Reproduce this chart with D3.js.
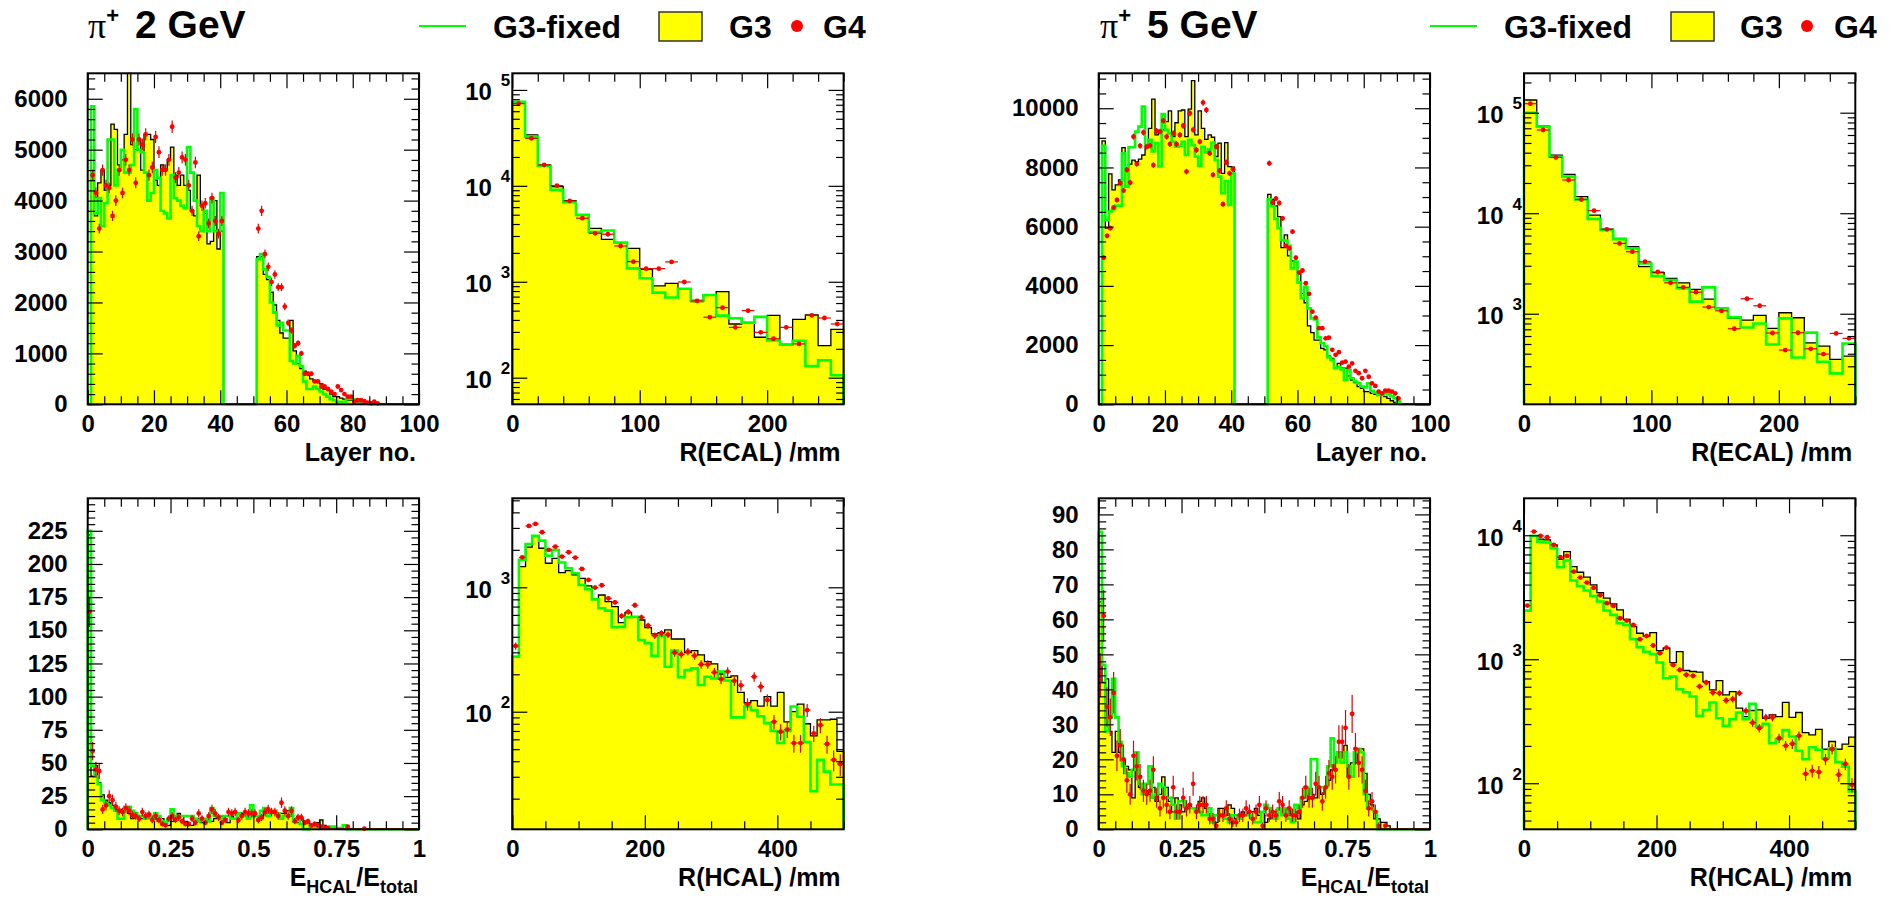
<!DOCTYPE html>
<html><head><meta charset="utf-8">
<script src="https://cdn.jsdelivr.net/npm/d3@7"></script>
<style>
body{margin:0;background:#fff;}
svg text{font-family:"Liberation Sans",Arial,Helvetica,sans-serif;font-weight:bold;fill:#000;}
</style>
</head><body><script>
// ---------------- DATA ----------------
// Panel: pi+ 2 GeV, energy per layer (bins of 1 layer, 0..100)
const layer2_G3 = [0,4400,3700,4350,4600,4200,4300,5500,5400,4700,
4800,5300,6700,5100,5000,5200,4600,5300,5300,5200,
4400,4300,4700,4600,4800,5050,4500,4300,4500,4300,
4200,3800,3700,4500,3900,3750,3150,3200,4000,3050,
3400,0,0,0,0,0,0,0,0,0,
0,2900,2900,2550,2450,2200,1950,1650,1400,1300,
1300,1650,1050,800,700,650,600,500,450,450,
400,300,300,200,150,150,120,100,80,80,
60,60,40,30,20,10,10,5,5,0,
0,0,0,0,0,0,0,0,0,0];
const layer2_G3fixed = [0,5850,3750,4050,3500,3950,5200,5200,4300,4600,
5000,4550,4550,4700,5800,5000,4950,4550,4000,4150,
4600,4450,3800,3750,3650,4500,4050,4000,3900,3850,
5050,4550,4000,3500,3400,3800,3400,4050,3400,3400,
4150,0,0,0,0,0,0,0,0,0,
0,2850,2950,2650,2500,2000,1800,1550,1600,1450,
1450,850,800,950,750,450,300,300,350,300,
250,200,150,100,80,50,40,50,100,100,
100,50,20,10,10,5,0,0,0,0,
0,0,0,0,0,0,0,0,0,0];
const layer2_G4 = [0,4500,4150,3450,4600,4300,4250,3700,4000,4600,
4150,4800,4600,5200,4350,5200,5100,5300,4500,4650,
5250,4950,4600,4600,4800,5450,4450,4550,4850,4800,
4300,3800,4750,3300,3900,3950,3550,4050,3600,3350,
3600,0,0,0,0,0,0,0,0,0,
0,3450,3800,2950,2700,2400,2550,2300,2300,1920,
1600,1450,1150,1200,1000,600,600,600,450,450,
350,350,300,250,200,350,280,200,150,150,
50,80,80,60,30,20,50,20,0,0,
0,0,0,0,0,0,0,0,0,0];

// Panel: pi+ 2 GeV, R(ECAL) (bins of 10 mm, 0..260)
const recal2_G3 = [75500,34000,16500,9800,7000,4980,3610,2770,2560,2230,1350,904,964,840,621,728,789,363,375,264,447,223,406,451,216,319];
const recal2_G3fixed = [75000,32600,16200,9080,6740,4980,3300,3420,2560,1380,1090,771,685,847,636,728,444,417,375,431,244,221,242,132,152,106];
const recal2_G4 = [72000,31300,16500,10050,6970,4600,3200,3130,2360,1620,1370,1370,1610,995,631,427,537,335,500,297,255,335,225,447,419,363];

// Panel: pi+ 2 GeV, E_HCAL/E_total (bins of 0.01, 0..1)
const frac2_G3 = [222,40,48,35,26,22,20,18,15,13,
15,16,12,8,10,10,8,10,12,10,
8,6,8,3,3,6,10,12,10,6,
3,3,6,8,5,5,8,6,8,10,
10,8,5,10,8,12,12,10,10,12,
12,10,8,14,10,12,12,10,12,12,
14,10,8,5,8,6,5,3,3,5,
7,3,2,1,1,1,0.5,0.5,0.5,0.5,
0.3,0.3,0,0,0,0,0,0,0,0,
0,0,0,0,0,0,0,0,0,0];
const frac2_G3fixed = [225,48,40,34,22,20,18,16,14,8,
8,17,17,14,12,10,10,8,10,8,
12,10,6,5,8,15,10,10,10,10,
10,10,8,6,8,8,6,16,10,10,
8,10,10,8,8,12,10,10,8,18,
10,10,14,16,10,14,14,12,8,10,
10,16,6,8,4,0,0,3,2,2,
2,1,1,2,2,1,1,3,0,0,
0,0,0,0,0,0,0,0,0,0,
0,0,0,0,0,0,0,0,0,0];
const frac2_G4 = [164,59,45,44,15,18,25,22,17,14,
13,16,14,11,10,8,13,10,11,7,
10,7,4,3,8,10,7,9,6,4,
4,8,5,12,8,5,10,15,12,9,
5,7,13,12,13,7,10,13,12,12,
12,7,9,13,15,13,13,10,20,14,
10,14,6,9,9,5,6,3,4,3,
2,1,1,0,0,0,0,0,2,0,
0,0,0,0.5,0,0,0,0,0,0,
0,0,0,0,0,0,0,0,0,0];

// Panel: pi+ 2 GeV, R(HCAL) (bins of 10 mm, 0..500)
const rhcal2_G3 = [277,1467,2100,2590,2060,1560,1710,1312,1362,1256,1181,1025,800,867,767,700,520,626,581,546,474,422,432,454,384,384,298,310,286,253,242,201,189,194,143,118,123,111,132,111,143,83,100,115,80,64,86,86,87,48];
const rhcal2_G3fixed = [277,1660,2230,2590,2370,1790,1995,1580,1422,1296,1044,964,800,678,649,477,481,574,580,377,355,281,406,230,310,189,216,223,164,191,185,210,178,90,90,110,103,92,81,70,56,70,110,91,57,23,41,33,26,26];
const rhcal2_G4 = [338,1742,3110,3228,2768,1995,2122,1765,1913,1734,1404,1146,994,1038,816,757,588,634,717,574,492,409,427,416,298,289,304,282,240,240,207,183,210,177,163,115,191,159,124,83,69,72,56,56,103,67,78,55,41,38];

// Panel: pi+ 5 GeV, energy per layer
const layer5_G3 = [0,8900,5950,7780,7240,7410,7580,8670,7860,8110,
8250,8200,8280,8420,8670,9320,10310,9100,9210,9270,
9550,9910,9040,9510,9910,9940,9040,9970,10930,9100,
9910,9320,8950,9100,9020,8370,8820,7800,8840,8030,
8010,0,0,0,0,0,0,0,0,0,
0,7090,6920,6700,6340,5290,5720,5010,4840,4820,
4450,3750,3430,2650,2420,2170,2170,1890,1840,1630,
1550,1220,1380,1220,1220,960,820,730,600,540,
430,430,370,340,320,320,260,200,120,60,
0,0,0,0,0,0,0,0,0,0];
const layer5_G3fixed = [0,8730,6230,6510,6590,6710,6710,8480,7350,8680,
8680,9210,9380,10060,8700,8930,8540,8820,8030,9800,
9270,9150,8870,8700,8730,8870,8420,8930,8760,8370,
8050,8700,8510,8610,8840,8250,7690,7130,7540,6730,
7800,0,0,0,0,0,0,0,0,0,
0,6920,6700,6260,5950,5550,5530,5350,4590,4820,
4110,3580,3970,3240,2900,2870,2260,2060,1970,1590,
1500,1220,1270,1180,820,1160,880,770,710,600,
570,710,460,390,320,320,370,350,280,200,
90,0,0,0,0,0,0,0,0,0];
const layer5_G4 = [0,4950,5690,5950,6650,6900,7470,7220,7920,7490,
9040,8120,8730,9180,8700,8740,8080,9230,9210,9580,
9040,8790,9150,8790,9100,9410,7860,9830,9270,8590,
8870,10190,9940,8480,7750,8700,7890,6760,8170,7800,
7940,0,0,0,0,0,0,0,0,0,
0,8140,6820,6950,6800,6280,5350,5270,5830,4950,
4450,4520,4090,3730,3130,2930,2570,2570,2230,2250,
1840,1670,1760,1410,1440,1270,1380,1130,1050,880,
1130,930,710,620,430,370,460,460,430,370,
200,0,0,0,0,0,0,0,0,0];

// Panel: pi+ 5 GeV, R(ECAL)
const recal5_G3 = [133700,73600,37900,24300,14600,9590,6960,5620,4640,2940,2560,2250,2030,1750,1400,1130,899,865,962,714,1023,912,514,476,351,379];
const recal5_G3fixed = [100000,72600,36500,23100,13700,8760,6810,5500,4470,3160,2370,2160,1790,1320,1830,1130,920,730,800,494,899,367,648,333,255,505];
const recal5_G4 = [122900,67300,35900,21400,13700,10600,6910,5010,4140,3290,2600,2030,1830,1640,1165,1070,709,1410,1200,643,435,647,448,397,637,569];

// Panel: pi+ 5 GeV, E_HCAL/E_total
const frac5_G3 = [65,42,43,28,22,28,22,20,18,17,
9,17,12,10,11,10,12,8,10,15,
12,8,5,9,7,5,6,7,6,5,
8,9,6,4,3,2,6,6,4,7,
6,3,3,5,4,5,5,6,4,5,
2,3,5,5,6,4,4,6,4,5,
3,7,8,10,10,9,12,10,12,14,
17,20,22,22,24,15,19,19,23,23,
16,10,7,3,3,2,2,1,0,0,
0,0,0,0,0,0,0,0,0,0];
const frac5_G3fixed = [85,47,28,32,43,32,25,18,16,15,
17,22,13,10,13,18,9,10,13,12,
9,9,7,3,8,8,6,6,6,5,
5,4,4,6,2,4,4,4,3,2,
4,4,3,4,4,4,3,2,2,5,
7,6,4,3,6,4,6,3,2,7,
6,9,12,10,20,20,12,12,12,18,
26,19,22,19,22,18,15,22,23,22,
10,6,6,5,0,0,0,0,0,0,
0,0,0,0,0,0,0,0,0,0];
const frac5_G4 = [44,61,35,32,39,21,24,20,14,10,
21,18,15,11,10,11,17,9,6,9,
7,5,12,5,5,9,6,7,13,5,
7,7,7,3,3,1,4,4,6,3,
2,2,4,4,6,5,3,5,7,1,
6,4,5,4,8,7,4,6,4,4,
5,9,12,9,9,13,12,8,12,16,
15,17,25,25,29,15,33,23,19,17,
11,6,8,5,1,0,1,0,0,0,
0,0,0,0,0,0,0,0,0,0];

// Panel: pi+ 5 GeV, R(HCAL)
const rhcal5_G3 = [2470,9880,9290,9170,8360,6400,7380,5590,5030,4590,3980,3450,3110,2800,2500,2100,1830,1620,1540,1640,1175,1228,940,1153,811,796,786,661,566,673,515,548,403,345,386,390,334,356,345,448,340,372,256,245,272,188,217,188,207,235];
const rhcal5_G3fixed = [2470,9880,8890,8730,7850,5520,6250,4310,3900,3580,3240,2920,2470,2280,1950,1890,1450,1250,1150,1100,940,703,725,573,542,500,349,390,448,334,290,328,372,328,437,286,301,210,226,269,238,183,156,195,186,159,191,148,136,86];
const rhcal5_G4 = [2710,10700,9880,9640,8360,6650,6810,5090,4560,4150,3760,3280,2830,2690,2140,2050,1890,1450,1540,1290,1120,1240,899,820,748,735,603,649,539,532,465,476,532,383,308,278,339,339,231,201,208,241,119,126,123,156,188,117,143,97];

// Tick values / labels
const layerTicks = [0,20,40,60,80,100];
const fracTicks = [0,0.25,0.5,0.75,1];
const fracTickLabels = ["0","0.25","0.5","0.75","1"];
const recalTicks = [0,100,200];
const rhcalTicks = [0,200,400];
const layer2YTicks = [0,1000,2000,3000,4000,5000,6000];
const layer5YTicks = [0,2000,4000,6000,8000,10000];
const frac2YTicks = [0,25,50,75,100,125,150,175,200,225];
const frac5YTicks = [0,10,20,30,40,50,60,70,80,90];
const legendLabels = ["G3-fixed","G3","G4"];
const titles = ["2 GeV","5 GeV"];
const axisTitles = ["Layer no.","R(ECAL) /mm","R(HCAL) /mm"];

// ---------------- DRAW ----------------
const W = 1894, H = 898;
const svg = d3.select("body").append("svg").attr("width", W).attr("height", H);
svg.append("rect").attr("width", W).attr("height", H).attr("fill", "#fff");

const PW = 331.3, PH = 331;
const COLX = [87.7, 512.3, 1098.7, 1524];
const ROWY = [73.3, 498.3];

function range(a, b, s) { const r = []; for (let v = a; v <= b + 1e-9; v += s) r.push(+v.toFixed(6)); return r; }

function logTicks(dom) {
  const major = [], minor = [];
  for (let e = -1; e <= 7; e++) {
    const p = Math.pow(10, e);
    if (p >= dom[0] && p <= dom[1]) major.push(p);
    for (let d = 2; d <= 9; d++) { const v = d * p; if (v >= dom[0] && v <= dom[1]) minor.push(v); }
  }
  return { major, minor };
}

function drawPanel(c) {
  const g = svg.append("g").attr("transform", `translate(${c.left},${c.top})`);
  const x = d3.scaleLinear().domain(c.xDomain).range([0, PW]);
  const y = (c.log ? d3.scaleLog() : d3.scaleLinear()).domain(c.yDomain).range([PH, 0]).clamp(true);
  const n = c.g3.length;
  const lo = c.xDomain[0], hi = c.xDomain[1];
  const bw = (hi - lo) / n;
  const yv = v => (c.log && v <= 0) ? PH : y(v);
  function steps(vals) {
    const pts = [[x(lo), PH]];
    vals.forEach((v, i) => { pts.push([x(lo + i * bw), yv(v)]); pts.push([x(lo + (i + 1) * bw), yv(v)]); });
    pts.push([x(hi), PH]);
    return d3.line()(pts);
  }
  // G3 filled histogram
  g.append("path").attr("d", steps(c.g3) + "Z").attr("fill", "#ffff00").attr("stroke", "none");
  g.append("path").attr("d", steps(c.g3)).attr("fill", "none").attr("stroke", "#000").attr("stroke-width", 1.3);
  // G3-fixed line
  g.append("path").attr("d", steps(c.fixed)).attr("fill", "none").attr("stroke", "#00ff00").attr("stroke-width", 2.6);
  // G4 points
  const pg = g.append("g");
  c.g4.forEach((v, i) => {
    const x0 = x(lo + i * bw), x1 = x(lo + (i + 1) * bw), xc = (x0 + x1) / 2;
    if (v <= 0) {
      if (!c.log) pg.append("line").attr("x1", x0).attr("x2", x1).attr("y1", PH - 0.5).attr("y2", PH - 0.5).attr("stroke", "#ff0000").attr("stroke-width", 1.2);
      return;
    }
    const e = Math.sqrt(v * c.errK);
    const lowV = c.log ? Math.max(v - e, c.yDomain[0]) : Math.max(v - e, 0);
    pg.append("line").attr("x1", xc).attr("x2", xc).attr("y1", y(lowV)).attr("y2", y(v + e)).attr("stroke", "#e00000").attr("stroke-width", 1.2);
    pg.append("line").attr("x1", x0).attr("x2", x1).attr("y1", y(v)).attr("y2", y(v)).attr("stroke", "#e00000").attr("stroke-width", 1.2);
    pg.append("circle").attr("cx", xc).attr("cy", y(v)).attr("r", 2.4).attr("fill", "#ff0000");
  });

  // axes
  const styleAxis = sel => {
    sel.select(".domain").remove();
    sel.attr("font-family", "Liberation Sans, Arial, sans-serif").attr("font-size", 24).attr("font-weight", "bold");
    sel.selectAll(".tick line").attr("stroke", "#000").attr("stroke-width", 1.2);
  };
  const xMinor = c.xMinor.filter(v => !c.xMajor.includes(v));
  // bottom
  g.append("g").attr("transform", `translate(0,${PH})`)
    .call(d3.axisBottom(x).tickValues(c.xMajor).tickSizeInner(-14).tickSizeOuter(0).tickPadding(11).tickFormat((d, i) => c.xLabels[i]))
    .call(styleAxis);
  g.append("g").attr("transform", `translate(0,${PH})`)
    .call(d3.axisBottom(x).tickValues(xMinor).tickSizeInner(-8).tickSizeOuter(0).tickFormat(""))
    .call(styleAxis);
  // top
  g.append("g").call(d3.axisTop(x).tickValues(c.xMajor).tickSizeInner(-15).tickSizeOuter(0).tickFormat("")).call(styleAxis);
  g.append("g").call(d3.axisTop(x).tickValues(xMinor).tickSizeInner(-8.5).tickSizeOuter(0).tickFormat("")).call(styleAxis);

  let yMajor, yMinor;
  if (c.log) { const t = logTicks(c.yDomain); yMajor = t.major; yMinor = t.minor; }
  else { yMajor = c.yMajor; yMinor = c.yMinor.filter(v => !c.yMajor.includes(v)); }

  const yl = g.append("g")
    .call(d3.axisLeft(y).tickValues(yMajor).tickSizeInner(-15).tickSizeOuter(0).tickPadding(c.log ? 2 : 20)
      .tickFormat(c.log ? (d => "10") : (d => String(d))))
    .call(styleAxis);
  if (c.log) {
    yl.selectAll(".tick text").each(function (d) {
      const t = d3.select(this);
      t.text(null).attr("dy", 10);
      t.append("tspan").text("10");
      t.append("tspan").attr("dx", 9).attr("dy", -14).attr("font-size", 17).text(Math.round(Math.log10(d)));
    });
  }
  g.append("g").call(d3.axisLeft(y).tickValues(yMinor).tickSizeInner(-7.5).tickSizeOuter(0).tickFormat("")).call(styleAxis);
  g.append("g").attr("transform", `translate(${PW},0)`).call(d3.axisRight(y).tickValues(yMajor).tickSizeInner(-15).tickSizeOuter(0).tickFormat("")).call(styleAxis);
  g.append("g").attr("transform", `translate(${PW},0)`).call(d3.axisRight(y).tickValues(yMinor).tickSizeInner(-7.5).tickSizeOuter(0).tickFormat("")).call(styleAxis);

  // frame
  g.append("rect").attr("x", 0).attr("y", 0).attr("width", PW).attr("height", PH)
    .attr("fill", "none").attr("stroke", "#000").attr("stroke-width", 2);

  // axis title
  if (c.fracTitle) {
    const t = g.append("text").attr("x", PW - 1).attr("y", PH + 57).attr("text-anchor", "end").attr("font-size", 25);
    t.append("tspan").text("E");
    t.append("tspan").attr("font-size", 18).attr("dy", 7).text("HCAL");
    t.append("tspan").attr("dy", -7).text("/E");
    t.append("tspan").attr("font-size", 18).attr("dy", 7).text("total");
  } else {
    g.append("text").attr("x", PW - 3).attr("y", PH + 57).attr("text-anchor", "end").attr("font-size", 25).text(c.xTitle);
  }
}

const layerMinor = range(0, 100, 5), fracMinor = range(0, 1, 0.05);
const recalMinor = range(0, 260, 20), rhcalMinor = range(0, 500, 50);

const panels = [
  { left: COLX[0], top: ROWY[0], xDomain: [0, 100], yDomain: [0, 6500], log: false, g3: layer2_G3, fixed: layer2_G3fixed, g4: layer2_G4, errK: 2.7,
    xMajor: layerTicks, xLabels: layerTicks.map(String), xMinor: layerMinor, yMajor: layer2YTicks, yMinor: range(0, 6400, 200), xTitle: axisTitles[0] },
  { left: COLX[1], top: ROWY[0], xDomain: [0, 260], yDomain: [52.8, 149000], log: true, g3: recal2_G3, fixed: recal2_G3fixed, g4: recal2_G4, errK: 0.5,
    xMajor: recalTicks, xLabels: recalTicks.map(String), xMinor: recalMinor, xTitle: axisTitles[1] },
  { left: COLX[0], top: ROWY[1], xDomain: [0, 1], yDomain: [0, 249.5], log: false, g3: frac2_G3, fixed: frac2_G3fixed, g4: frac2_G4, errK: 0.8,
    xMajor: fracTicks, xLabels: fracTickLabels, xMinor: fracMinor, yMajor: frac2YTicks, yMinor: range(0, 245, 5), fracTitle: true },
  { left: COLX[1], top: ROWY[1], xDomain: [0, 500], yDomain: [11.35, 5190], log: true, g3: rhcal2_G3, fixed: rhcal2_G3fixed, g4: rhcal2_G4, errK: 1.5,
    xMajor: rhcalTicks, xLabels: rhcalTicks.map(String), xMinor: rhcalMinor, xTitle: axisTitles[2] },
  { left: COLX[2], top: ROWY[0], xDomain: [0, 100], yDomain: [0, 11180], log: false, g3: layer5_G3, fixed: layer5_G3fixed, g4: layer5_G4, errK: 1.1,
    xMajor: layerTicks, xLabels: layerTicks.map(String), xMinor: layerMinor, yMajor: layer5YTicks, yMinor: range(0, 11000, 500), xTitle: axisTitles[0] },
  { left: COLX[3], top: ROWY[0], xDomain: [0, 260], yDomain: [125.6, 246600], log: true, g3: recal5_G3, fixed: recal5_G3fixed, g4: recal5_G4, errK: 0.5,
    xMajor: recalTicks, xLabels: recalTicks.map(String), xMinor: recalMinor, xTitle: axisTitles[1] },
  { left: COLX[2], top: ROWY[1], xDomain: [0, 1], yDomain: [0, 94.6], log: false, g3: frac5_G3, fixed: frac5_G3fixed, g4: frac5_G4, errK: 0.9,
    xMajor: fracTicks, xLabels: fracTickLabels, xMinor: fracMinor, yMajor: frac5YTicks, yMinor: range(0, 94, 2), fracTitle: true },
  { left: COLX[3], top: ROWY[1], xDomain: [0, 500], yDomain: [42.5, 19860], log: true, g3: rhcal5_G3, fixed: rhcal5_G3fixed, g4: rhcal5_G4, errK: 1.7,
    xMajor: rhcalTicks, xLabels: rhcalTicks.map(String), xMinor: rhcalMinor, xTitle: axisTitles[2] }
];
panels.forEach(drawPanel);

// titles (one text element: pi, superscript +, label)
function title(x0, label) {
  const t = svg.append("text").attr("x", x0).attr("y", 38);
  t.append("tspan").attr("font-family", "Liberation Serif, serif").attr("font-weight", "normal").attr("font-size", 36).text("π");
  t.append("tspan").attr("font-size", 22).attr("dx", 0).attr("dy", -15).text("+");
  t.append("tspan").attr("font-size", 39).attr("dx", 16).attr("dy", 15).text(label);
}
title(88, titles[0]);
title(1100, titles[1]);

// legends
function legend(lineX0, lineX1, textX, boxX, g3X, dotX, g4X) {
  const lg = svg.append("g");
  lg.append("line").attr("x1", lineX0).attr("x2", lineX1).attr("y1", 26).attr("y2", 26).attr("stroke", "#00ff00").attr("stroke-width", 2);
  lg.append("text").attr("x", textX).attr("y", 38).attr("font-size", 32).text(legendLabels[0]);
  lg.append("rect").attr("x", boxX).attr("y", 12).attr("width", 43).attr("height", 29).attr("fill", "#ffff00").attr("stroke", "#333").attr("stroke-width", 1.5);
  lg.append("text").attr("x", g3X).attr("y", 38).attr("font-size", 32).text(legendLabels[1]);
  lg.append("circle").attr("cx", dotX).attr("cy", 26).attr("r", 6).attr("fill", "#ff0000");
  lg.append("text").attr("x", g4X).attr("y", 38).attr("font-size", 32).text(legendLabels[2]);
}
legend(419, 466, 493, 659, 729, 797, 823);
legend(1430, 1477, 1504, 1671, 1740, 1807, 1834);
</script></body></html>
